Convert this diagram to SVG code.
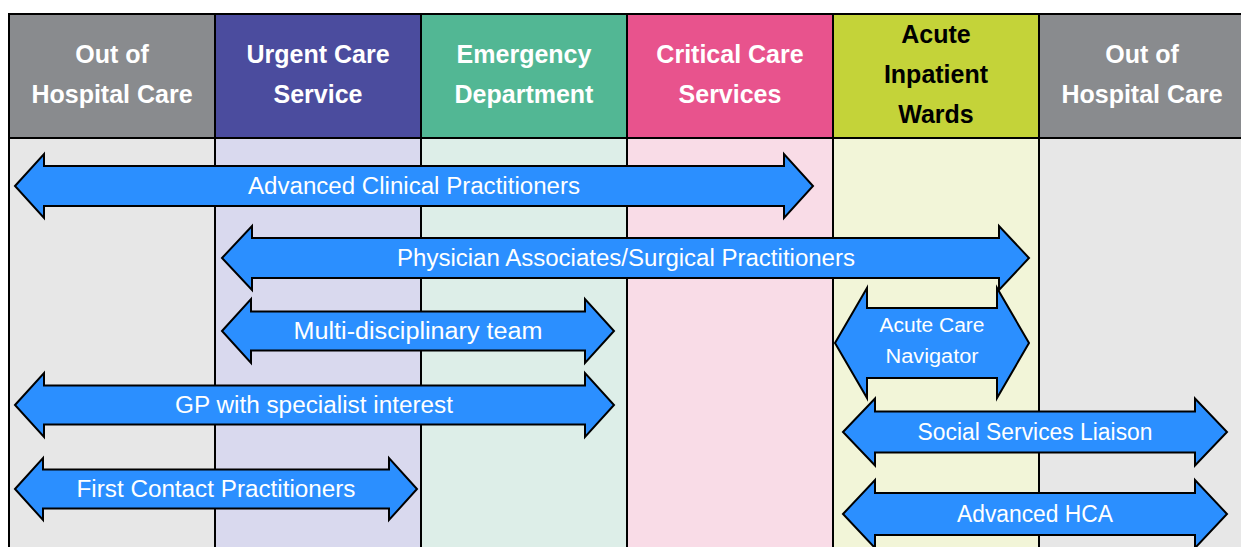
<svg xmlns="http://www.w3.org/2000/svg" width="1241" height="547" viewBox="0 0 1241 547">
<style>
.hd{font-family:"Liberation Sans",Arial,sans-serif;font-weight:bold;font-size:25px;fill:#fff;text-anchor:middle}
.hd.dark{fill:#000}
.arr{fill:#2B8FFF;stroke:#000;stroke-width:2;stroke-linejoin:miter}
.lb{font-family:"Liberation Sans",Arial,sans-serif;font-size:23px;fill:#fff;text-anchor:middle}
.lb.sm{font-size:20px}
.grid{stroke:#000;stroke-width:2;fill:none}
</style>
<rect width="1241" height="547" fill="#fff"/>
<g id="columns">
<rect x="9" y="14" width="206" height="124" fill="#898B8E"/>
<rect x="215" y="14" width="206" height="124" fill="#4B4C9E"/>
<rect x="421" y="14" width="206" height="124" fill="#52B794"/>
<rect x="627" y="14" width="206" height="124" fill="#E8538D"/>
<rect x="833" y="14" width="206" height="124" fill="#C4D339"/>
<rect x="1039" y="14" width="210" height="124" fill="#898B8E"/>
<rect x="9" y="138" width="206" height="420" fill="#E7E7E7"/>
<rect x="215" y="138" width="206" height="420" fill="#D9D9EE"/>
<rect x="421" y="138" width="206" height="420" fill="#DDEEE8"/>
<rect x="627" y="138" width="206" height="420" fill="#F9DCE7"/>
<rect x="833" y="138" width="206" height="420" fill="#F2F5D8"/>
<rect x="1039" y="138" width="210" height="420" fill="#E7E7E7"/>
<path class="grid" d="M215,14V560M421,14V560M627,14V560M833,14V560M1039,14V560"/>
<path class="grid" stroke-width="2.5" d="M9,560V14H1250M9,138H1250"/>
</g>
<g id="header-out-left"><text class="hd" x="112" y="63">Out of</text><text class="hd" x="112" y="103">Hospital Care</text></g>
<g id="header-urgent"><text class="hd" x="318" y="63">Urgent Care</text><text class="hd" x="318" y="103">Service</text></g>
<g id="header-emergency"><text class="hd" x="524" y="63">Emergency</text><text class="hd" x="524" y="103">Department</text></g>
<g id="header-critical"><text class="hd" x="730" y="63">Critical Care</text><text class="hd" x="730" y="103">Services</text></g>
<g id="header-acute"><text class="hd dark" x="936" y="43">Acute</text><text class="hd dark" x="936" y="83">Inpatient</text><text class="hd dark" x="936" y="123">Wards</text></g>
<g id="header-out-right"><text class="hd" x="1142" y="63">Out of</text><text class="hd" x="1142" y="103">Hospital Care</text></g>
<g id="connectors">
<g id="acp"><path class="arr" d="M15,186L44,154V166H784V154L813,186L784,218V206H44V218Z"/><text class="lb" x="414" y="194" textLength="332" lengthAdjust="spacingAndGlyphs">Advanced Clinical Practitioners</text></g>
<g id="pa"><path class="arr" d="M222,258L252,226V238H999V226L1029,258L999,290V278H252V290Z"/><text class="lb" x="626" y="266" textLength="458" lengthAdjust="spacingAndGlyphs">Physician Associates/Surgical Practitioners</text></g>
<g id="acn"><path class="arr" d="M835,343L867,288V308H997V288L1029,343L997,398V378H867V398Z"/><text class="lb sm" x="932" y="332" textLength="105" lengthAdjust="spacingAndGlyphs">Acute Care</text><text class="lb sm" x="932" y="363" textLength="93" lengthAdjust="spacingAndGlyphs">Navigator</text></g>
<g id="mdt"><path class="arr" d="M222,331L251,299V311.5H585V299L614,331L585,363V350.5H251V363Z"/><text class="lb" x="418" y="339" textLength="249" lengthAdjust="spacingAndGlyphs">Multi-disciplinary team</text></g>
<g id="gp"><path class="arr" d="M15,405L44,373V385.5H585V373L614,405L585,437V424.5H44V437Z"/><text class="lb" x="314" y="413" textLength="278" lengthAdjust="spacingAndGlyphs">GP with specialist interest</text></g>
<g id="fcp"><path class="arr" d="M15,489L43,458V469.5H389V458L417,489L389,520V508.5H43V520Z"/><text class="lb" x="216" y="497" textLength="279" lengthAdjust="spacingAndGlyphs">First Contact Practitioners</text></g>
<g id="ssl"><path class="arr" d="M843,432L875,398.5V411.5H1195V398.5L1227,432L1195,465.5V452.5H875V465.5Z"/><text class="lb" x="1035" y="440" textLength="235" lengthAdjust="spacingAndGlyphs">Social Services Liaison</text></g>
<g id="hca"><path class="arr" d="M843,514L875,480V493H1195V480L1227,514L1195,548V535H875V548Z"/><text class="lb" x="1035" y="522" textLength="156" lengthAdjust="spacingAndGlyphs">Advanced HCA</text></g>
</g>
</svg>
